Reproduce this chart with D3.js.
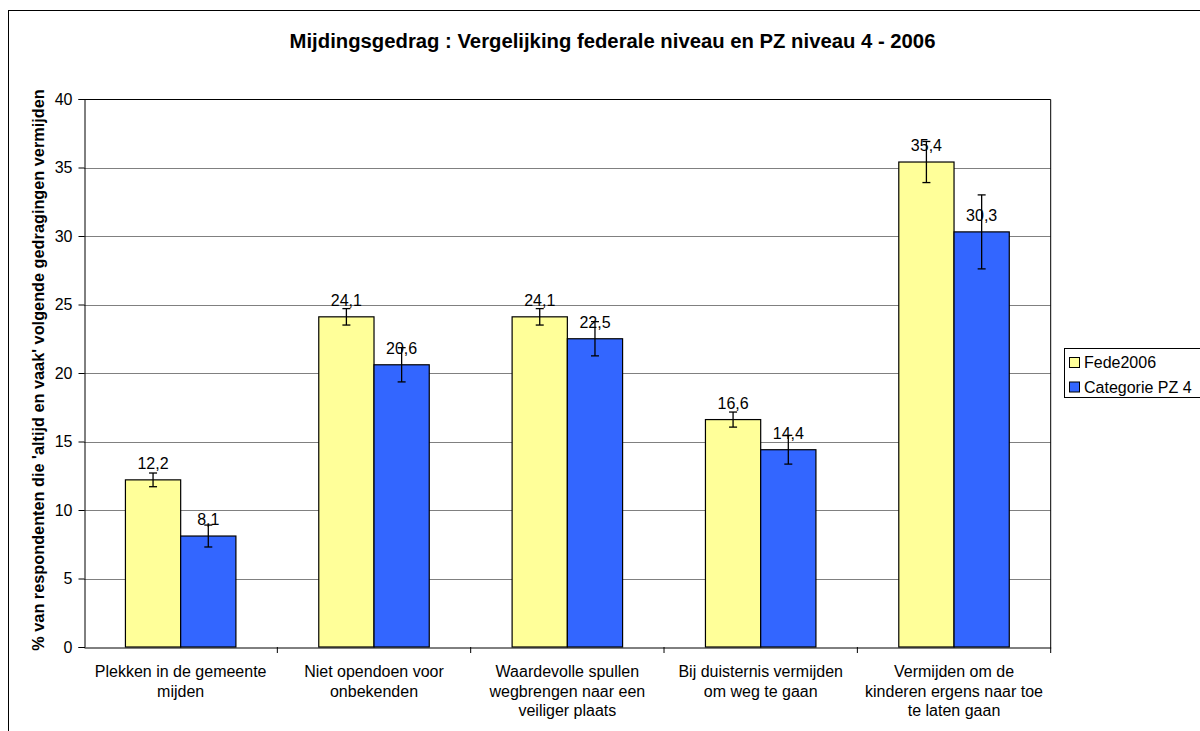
<!DOCTYPE html>
<html>
<head>
<meta charset="utf-8">
<script src="https://cdn.jsdelivr.net/npm/d3@7"></script>
<style>
  html, body { margin: 0; padding: 0; background: #fff; }
  svg { display: block; font-family: "Liberation Sans", Arial, sans-serif; }
</style>
</head>
<body>
<svg id="chart" width="1200" height="731"></svg>
<script>
// ---- data ----
const categories = [
  "Plekken in de gemeente mijden",
  "Niet opendoen voor onbekenden",
  "Waardevolle spullen wegbrengen naar een veiliger plaats",
  "Bij duisternis vermijden om weg te gaan",
  "Vermijden om de kinderen ergens naar toe te laten gaan"
];
const categoryLines = [
  ["Plekken in de gemeente", "mijden"],
  ["Niet opendoen voor", "onbekenden"],
  ["Waardevolle spullen", "wegbrengen naar een", "veiliger plaats"],
  ["Bij duisternis vermijden", "om weg te gaan"],
  ["Vermijden om de", "kinderen ergens naar toe", "te laten gaan"]
];
const seriesNames = ["Fede2006", "Categorie PZ 4"];
const fede2006 = [12.2, 24.1, 24.1, 16.6, 35.4];
const pz4 = [8.1, 20.6, 22.5, 14.4, 30.3];
const fede2006Err = [0.5, 0.6, 0.6, 0.55, 1.5];
const pz4Err = [0.8, 1.25, 1.25, 1.05, 2.7];
const yTicks = [0, 5, 10, 15, 20, 25, 30, 35, 40];
const labelsFede = ["12,2", "24,1", "24,1", "16,6", "35,4"];
const labelsPz4 = ["8,1", "20,6", "22,5", "14,4", "30,3"];
const title = "Mijdingsgedrag : Vergelijking federale niveau en PZ niveau 4 - 2006";
const yTitle = "% van respondenten die 'altijd en vaak' volgende gedragingen vermijden";

// ---- layout ----
const svg = d3.select("#chart");
const plotL = 84, plotR = 1050.7, plotT = 99, plotB = 647;
const colors = ["#FFFF99", "#3366FF"];
const values = [fede2006, pz4];
const errs = [fede2006Err, pz4Err];
const labels = [labelsFede, labelsPz4];

// outer chart border
svg.append("rect")
  .attr("x", 8.5).attr("y", 10.5)
  .attr("width", 1400).attr("height", 900)
  .attr("fill", "#fff").attr("stroke", "#000").attr("stroke-width", 1);

const x0 = d3.scaleBand().domain(categories).range([plotL, plotR]).padding(0);
const bw = x0.bandwidth();
const gap = bw * 1.5 / 3.5;
const x1 = d3.scaleBand().domain(seriesNames).range([gap / 2, bw - gap / 2]).padding(0);
const y = d3.scaleLinear().domain([0, 40]).range([plotB, plotT]);

// title
svg.append("text")
  .attr("x", 612.5).attr("y", 48)
  .attr("text-anchor", "middle")
  .attr("font-size", 20.3).attr("font-weight", "bold")
  .text(title);

// gridlines
svg.append("g").selectAll("line")
  .data(yTicks.filter(d => d > 0 && d < 40))
  .join("line")
  .attr("x1", plotL).attr("x2", plotR)
  .attr("y1", d => Math.round(y(d)) + 0.5).attr("y2", d => Math.round(y(d)) + 0.5)
  .attr("stroke", "#808080").attr("stroke-width", 1);

// plot border top/right
svg.append("path")
  .attr("d", `M${plotL},${plotT + 0.5}H${plotR}V${plotB}`)
  .attr("fill", "none").attr("stroke", "#000").attr("stroke-width", 1);

// y axis
const yAxis = d3.axisLeft(y).tickValues(yTicks).tickSize(6).tickPadding(6).tickFormat(d3.format("d"));
const gy = svg.append("g").attr("transform", `translate(${plotL + 0.5},0)`).call(yAxis);
gy.select(".domain").attr("stroke", "#000");
gy.selectAll(".tick line").attr("stroke", "#000");
gy.selectAll(".tick text").attr("font-size", 16).attr("fill", "#000")
  .attr("font-family", "'Liberation Sans', Arial, sans-serif");

// bars
const groups = svg.append("g").selectAll("g")
  .data(categories)
  .join("g")
  .attr("transform", d => `translate(${x0(d)},0)`);

seriesNames.forEach((s, si) => {
  groups.append("rect")
    .attr("x", (d, i) => x1(s))
    .attr("y", (d, i) => y(values[si][i]))
    .attr("width", x1.bandwidth())
    .attr("height", (d, i) => y(0) - y(values[si][i]))
    .attr("fill", colors[si])
    .attr("stroke", "#000").attr("stroke-width", 1.2);
});

// x axis
const xAxis = d3.axisBottom(x0).tickSize(0).tickFormat("");
const gx = svg.append("g").attr("transform", `translate(0,${plotB + 0.5})`).call(xAxis);
gx.select(".domain").attr("stroke", "#000");
// boundary ticks
svg.append("g").selectAll("line")
  .data(categories)
  .join("line")
  .attr("x1", d => x0(d) + bw).attr("x2", d => x0(d) + bw)
  .attr("y1", plotB).attr("y2", plotB + 6)
  .attr("stroke", "#000");

// category labels
svg.append("g").selectAll("text")
  .data(categories)
  .join("text")
  .attr("text-anchor", "middle")
  .attr("font-size", 16)
  .each(function (d, i) {
    const t = d3.select(this);
    categoryLines[i].forEach((ln, li) => {
      t.append("tspan")
        .attr("x", x0(d) + bw / 2)
        .attr("y", 677 + li * 19.5)
        .text(ln);
    });
  });

// error bars
seriesNames.forEach((s, si) => {
  const eg = groups.append("g");
  eg.append("line")
    .attr("x1", x1(s) + x1.bandwidth() / 2).attr("x2", x1(s) + x1.bandwidth() / 2)
    .attr("y1", (d, i) => y(values[si][i] + errs[si][i]))
    .attr("y2", (d, i) => y(values[si][i] - errs[si][i]))
    .attr("stroke", "#000").attr("stroke-width", 1.3);
  [1, -1].forEach(sg => {
    eg.append("line")
      .attr("x1", x1(s) + x1.bandwidth() / 2 - 4).attr("x2", x1(s) + x1.bandwidth() / 2 + 4)
      .attr("y1", (d, i) => y(values[si][i] + sg * errs[si][i]))
      .attr("y2", (d, i) => y(values[si][i] + sg * errs[si][i]))
      .attr("stroke", "#000").attr("stroke-width", 1.3);
  });
});

// data labels
seriesNames.forEach((s, si) => {
  groups.append("text")
    .attr("x", x1(s) + x1.bandwidth() / 2)
    .attr("y", (d, i) => y(values[si][i]) - 11)
    .attr("text-anchor", "middle")
    .attr("font-size", 16)
    .text((d, i) => labels[si][i]);
});

// y title
svg.append("text")
  .attr("transform", `translate(44,370) rotate(-90)`)
  .attr("text-anchor", "middle")
  .attr("font-size", 16.3).attr("font-weight", "bold")
  .text(yTitle);

// legend
const lg = svg.append("g");
lg.append("rect")
  .attr("x", 1064.5).attr("y", 348.5).attr("width", 140).attr("height", 49)
  .attr("fill", "#fff").attr("stroke", "#000").attr("stroke-width", 1);
seriesNames.forEach((s, si) => {
  const cy = 362.5 + si * 24.5;
  lg.append("rect")
    .attr("x", 1069.5).attr("y", cy - 5).attr("width", 10).attr("height", 10)
    .attr("fill", colors[si]).attr("stroke", "#000");
  lg.append("text")
    .attr("x", 1084).attr("y", cy + 5.5)
    .attr("font-size", 16)
    .text(s);
});
</script>
</body>
</html>
